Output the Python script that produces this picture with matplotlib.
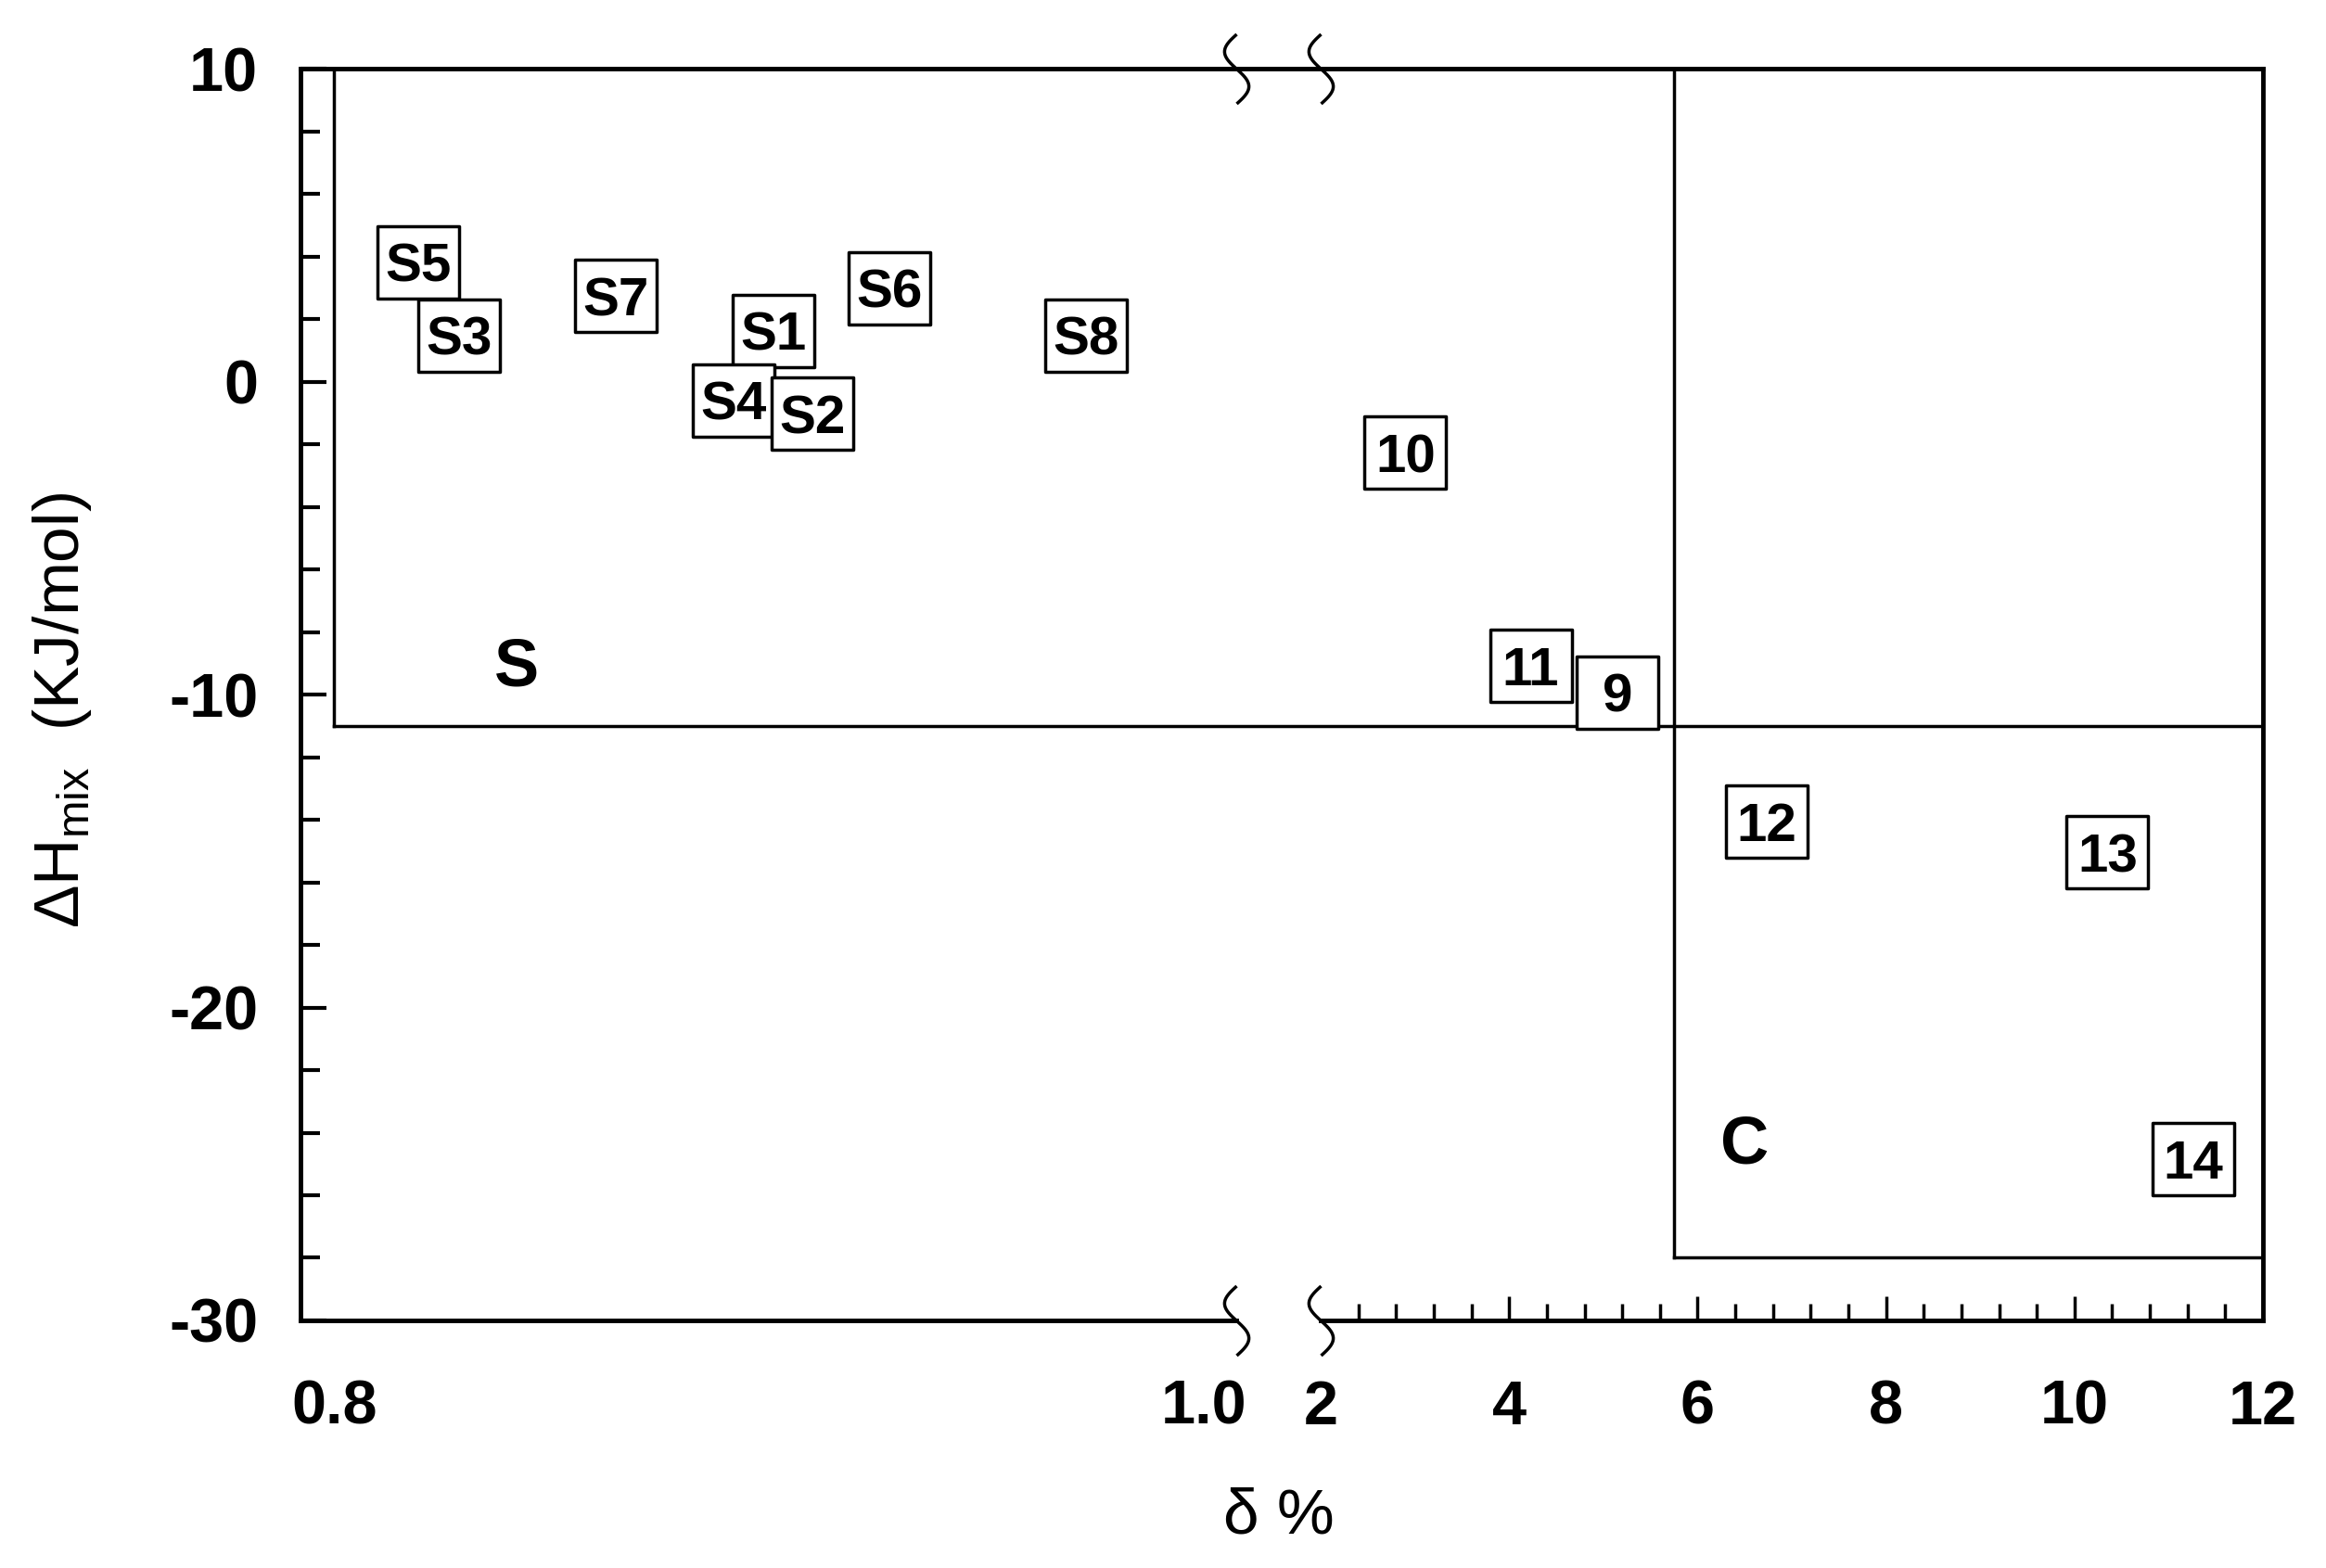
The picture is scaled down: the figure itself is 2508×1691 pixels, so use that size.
import numpy as np
import matplotlib
matplotlib.use("Agg")
import matplotlib.pyplot as plt
from matplotlib.path import Path

plt.rcParams["font.family"] = ["Liberation Sans", "DejaVu Sans"]
plt.rcParams["mathtext.fontset"] = "custom"
plt.rcParams["mathtext.rm"] = "Liberation Sans"
plt.rcParams["axes.unicode_minus"] = False

# data
labels = ["S5", "S3", "S7", "S1", "S4", "S2", "S6", "S8",
          "10", "11", "9", "12", "13", "14"]
delta = [0.8194, 0.8288, 0.8648, 0.9011, 0.8919, 0.9100, 0.9277, 0.9729,
         2.90, 4.23, 5.15, 6.73, 10.35, 11.26]
dh_mix = [3.82, 1.47, 2.73, 1.62, -0.60, -1.03, 2.98, 1.47,
          -2.28, -9.09, -9.94, -14.05, -15.05, -24.85]

# region borders (S = solid solution, C = compound)
s_left = 0.8
region_split_x = 5.75
s_bottom = -11
c_bottom = -28

x_ticks = [0.8, 1.0, 2, 4, 6, 8, 10, 12]
x_ticklabels = ["0.8", "1.0", "2", "4", "6", "8", "10", "12"]
y_ticks = [10, 0, -10, -20, -30]

# broken x axis: 0.79-1.0 stretched, 2-12 compressed
x_min, break_lo, break_hi, x_max = 0.7923, 1.0075, 2.0, 12.0
XKNOTS = [x_min, break_lo, break_hi, x_max]
PKNOTS = [324, 1333, 1424, 2440]


def fwd(x):
    return np.interp(x, XKNOTS, PKNOTS)


def inv(p):
    return np.interp(p, PKNOTS, XKNOTS)


fig = plt.figure(figsize=(25.08, 16.91), dpi=100)
ax = fig.add_axes([0.1292, 0.1579, 0.9729 - 0.1292, 0.9562 - 0.1579])
ax.set_xscale("function", functions=(fwd, inv))
ax.set_xlim(x_min, x_max)
ax.set_ylim(-30, 10)

for side in ["left", "right", "top"]:
    ax.spines[side].set_linewidth(3.5)
ax.spines["bottom"].set_visible(False)

# bottom axis line with a gap at the break
ax.plot([x_min, break_lo], [-30, -30], color="black", lw=3.5, clip_on=False, zorder=5)
ax.plot([break_hi, x_max], [-30, -30], color="black", lw=3.5, clip_on=False, zorder=5)

# break squiggles
t = np.linspace(0, 1, 40)
squig = Path(np.column_stack([-0.35 * np.sin(2 * np.pi * t), 1 - 2 * t]))
for bx in [break_lo, break_hi]:
    for by in [10, -30]:
        ax.plot([bx], [by], marker=squig, markersize=54, mfc="none",
                mec="black", mew=2.5, linestyle="", clip_on=False, zorder=6)

# region lines
lw_reg = 2.5
ax.plot([s_left, s_left], [s_bottom, 10], color="black", lw=lw_reg)
ax.plot([s_left, x_max], [s_bottom, s_bottom], color="black", lw=lw_reg)
ax.plot([region_split_x, region_split_x], [c_bottom, 10], color="black", lw=lw_reg)
ax.plot([region_split_x, x_max], [c_bottom, c_bottom], color="black", lw=lw_reg)

ax.text(0.842, -9.15, "S", fontsize=52, fontweight="bold", ha="center", va="center")
ax.text(6.50, -24.4, "C", fontsize=52, fontweight="bold", ha="center", va="center")

# boxed alloy labels: fixed-size rectangle marker + centred text
box = Path([(-0.565, -0.5), (0.565, -0.5), (0.565, 0.5), (-0.565, 0.5), (-0.565, -0.5)],
           [Path.MOVETO, Path.LINETO, Path.LINETO, Path.LINETO, Path.CLOSEPOLY])
for i, (lab, x, y) in enumerate(zip(labels, delta, dh_mix)):
    z = 4 + i * 0.01
    ax.plot([x], [y], marker=box, markersize=63, mfc="white", mec="black",
            mew=2.5, linestyle="", zorder=z)
    ax.annotate(lab, (x, y), xytext=(0, -15), textcoords="offset points",
                fontsize=42, fontweight="bold", ha="center", va="baseline",
                zorder=z + 0.005)

# ticks
ax.set_xticks(x_ticks)
ax.set_xticklabels(x_ticklabels)
minor_x = [v for v in np.round(np.arange(2.4, 12, 0.4), 1) if v % 2 != 0]
ax.set_xticks(minor_x, minor=True)
ax.set_yticks(y_ticks)
ax.set_yticks(np.arange(-28, 10, 2), minor=True)

ax.tick_params(axis="x", which="major", direction="in", length=19, width=2.5,
               pad=46, labelsize=48, top=False)
ax.tick_params(axis="x", which="minor", direction="in", length=13, width=2.5, top=False)
ax.tick_params(axis="y", which="major", direction="in", length=20, width=3,
               pad=33, labelsize=48, right=False)
ax.tick_params(axis="y", which="minor", direction="in", length=15, width=3, right=False)
for lab in ax.get_xticklabels() + ax.get_yticklabels():
    lab.set_fontweight("bold")

for tk, loc in zip(ax.xaxis.get_major_ticks(), x_ticks):
    if loc in (0.8, 1.0, 2, 12):
        tk.tick1line.set_visible(False)

fig.text(67 / 2508, 1 - 766 / 1691, r"ΔH$_{\rm mix}$  (KJ/mol)", rotation=90,
         fontsize=50, ha="center", va="center")
fig.text(1379 / 2508, 1 - 1635 / 1691, "δ %", fontsize=50, ha="center", va="center")

fig.savefig("out.png", dpi=100)
